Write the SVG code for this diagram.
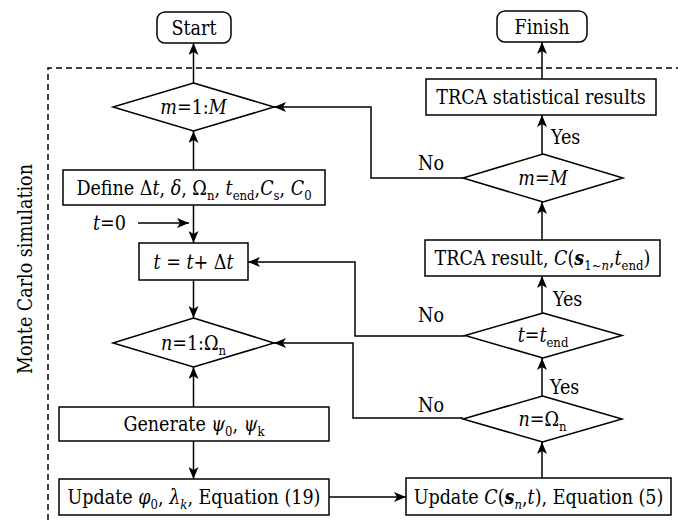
<svg xmlns="http://www.w3.org/2000/svg" width="678" height="522" viewBox="0 0 678 522">
<style>
.box{fill:#fff;stroke:#000;stroke-width:1.5}
.conn{fill:none;stroke:#000;stroke-width:1.5;marker-end:url(#arr)}
.dash{fill:none;stroke:#000;stroke-width:1.5;stroke-dasharray:6,4}
text{font-family:"DejaVu Serif Condensed","DejaVu Serif",serif;font-stretch:condensed;font-size:19.5px;fill:#000}
.c{text-anchor:middle}
.i{font-style:italic}
.b{font-weight:bold;font-style:italic}
.s{font-size:13px}
</style>
<defs>
<marker id="arr" markerUnits="userSpaceOnUse" markerWidth="12" markerHeight="10" refX="12" refY="5" orient="auto">
<path d="M0,0 L12,5 L0,10 L3,5 z" fill="#000"/>
</marker>
</defs>

<g id="frame">
<path class="dash" d="M48,520 L48,68 L678,68"/>
<text transform="translate(32,269) rotate(-90)" class="c">Monte Carlo simulation</text>
</g>

<g id="connectors">
<path class="conn" d="M193.5,83 L193.5,43"/>
<path class="conn" d="M193.5,170 L193.5,131"/>
<path class="conn" d="M193.5,205 L193.5,243"/>
<path class="conn" d="M138,223 L189,223"/>
<path class="conn" d="M193.5,280 L193.5,318"/>
<path class="conn" d="M193.5,407 L193.5,367"/>
<path class="conn" d="M193.5,441 L193.5,479"/>
<path class="conn" d="M329,497 L406,497"/>
<path class="conn" d="M542,478 L542,442"/>
<path class="conn" d="M542,396 L542,358"/>
<path class="conn" d="M542,313 L542,276"/>
<path class="conn" d="M542,240 L542,202"/>
<path class="conn" d="M542,154 L542,115"/>
<path class="conn" d="M542,79 L542,42"/>
<path class="conn" d="M463,178 L371,178 L371,107 L274,107"/>
<path class="conn" d="M465,336 L355,336 L355,262 L248,262"/>
<path class="conn" d="M463,418 L353,418 L353,343 L274,343"/>
<text x="93" y="230"><tspan class="i">t</tspan>=0</text>
<text x="431" y="170" class="c">No</text>
<text x="431" y="322" class="c">No</text>
<text x="431" y="412" class="c">No</text>
<text x="551" y="144">Yes</text>
<text x="553" y="306">Yes</text>
<text x="550" y="394">Yes</text>
</g>

<g id="start">
<rect class="box" x="157" y="12" width="74" height="31" rx="8"/>
<text x="194" y="34.5" class="c">Start</text>
</g>

<g id="finish">
<rect class="box" x="497" y="11" width="90" height="31" rx="8"/>
<text x="542" y="33.5" class="c">Finish</text>
</g>

<g id="loop-m">
<polygon class="box" points="193.5,83 274,107 193.5,131 113,107"/>
<text x="193.5" y="114" class="c"><tspan class="i">m</tspan>=1:<tspan class="i">M</tspan></text>
</g>

<g id="define">
<rect class="box" x="63" y="170" width="262" height="35"/>
<text x="194" y="194.5" class="c">Define Δ<tspan class="i">t</tspan>, <tspan class="i">δ</tspan>, Ω<tspan class="s" dy="5">n</tspan><tspan dy="-5">, </tspan><tspan class="i">t</tspan><tspan class="s" dy="5">end</tspan><tspan dy="-5">,</tspan><tspan class="i">C</tspan><tspan class="s" dy="5">s</tspan><tspan dy="-5">, </tspan><tspan class="i">C</tspan><tspan class="s" dy="5">0</tspan></text>
</g>

<g id="time-step">
<rect class="box" x="139" y="243" width="109" height="37"/>
<text x="193.5" y="268.5" class="c"><tspan class="i">t</tspan> = <tspan class="i">t</tspan>+ Δ<tspan class="i">t</tspan></text>
</g>

<g id="loop-n">
<polygon class="box" points="193.5,318 274,343 193.5,367 113,343"/>
<text x="193.5" y="349.5" class="c"><tspan class="i">n</tspan>=1:Ω<tspan class="s" dy="5">n</tspan></text>
</g>

<g id="generate">
<rect class="box" x="59" y="407" width="270" height="34"/>
<text x="194" y="430.5" class="c">Generate <tspan class="i">ψ</tspan><tspan class="s" dy="5">0</tspan><tspan dy="-5">, </tspan><tspan class="i">ψ</tspan><tspan class="s" dy="5">k</tspan></text>
</g>

<g id="update-phi">
<rect class="box" x="59" y="479" width="270" height="36"/>
<text x="194" y="503.5" class="c">Update <tspan class="i">φ</tspan><tspan class="s" dy="5">0</tspan><tspan dy="-5">, </tspan><tspan class="i">λ</tspan><tspan class="s i" dy="5">k</tspan><tspan dy="-5">, Equation (19)</tspan></text>
</g>

<g id="update-c">
<rect class="box" x="406" y="478" width="265" height="37"/>
<text x="538.5" y="503.5" class="c">Update <tspan class="i">C</tspan>(<tspan class="b">s</tspan><tspan class="s i" dy="5">n</tspan><tspan dy="-5">,</tspan><tspan class="i">t</tspan>), Equation (5)</text>
</g>

<g id="check-n">
<polygon class="box" points="542.5,396 622,419 542.5,442 463,419"/>
<text x="542.5" y="425.5" class="c"><tspan class="i">n</tspan>=Ω<tspan class="s" dy="5">n</tspan></text>
</g>

<g id="check-t">
<polygon class="box" points="543,313 622,335.5 543,358 465,335.5"/>
<text x="543" y="341.5" class="c"><tspan class="i">t</tspan>=<tspan class="i">t</tspan><tspan class="s" dy="5">end</tspan></text>
</g>

<g id="trca-result">
<rect class="box" x="425" y="240" width="235" height="36"/>
<text x="542.5" y="264.5" class="c">TRCA result, <tspan class="i">C</tspan>(<tspan class="b">s</tspan><tspan class="s" dy="5">1~</tspan><tspan class="s i">n</tspan><tspan dy="-5">,</tspan><tspan class="i">t</tspan><tspan class="s" dy="5">end</tspan><tspan dy="-5">)</tspan></text>
</g>

<g id="check-m">
<polygon class="box" points="543,154 623,178 543,202 463,178"/>
<text x="543" y="184.5" class="c"><tspan class="i">m</tspan>=<tspan class="i">M</tspan></text>
</g>

<g id="trca-stat">
<rect class="box" x="426" y="79" width="230" height="36"/>
<text x="541" y="103.5" class="c">TRCA statistical results</text>
</g>
</svg>
